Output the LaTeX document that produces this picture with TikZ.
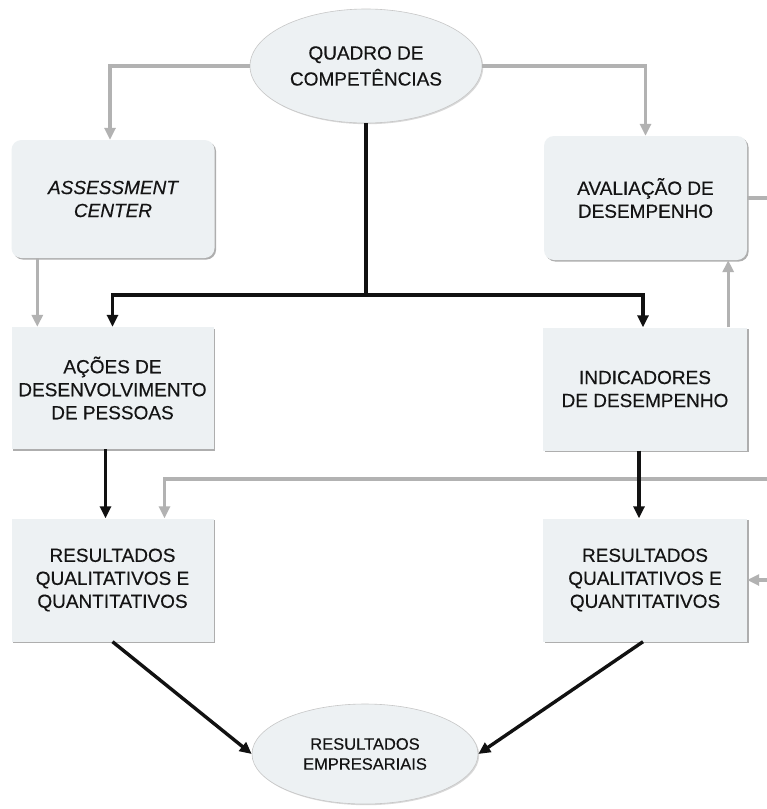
\documentclass[tikz,border=0pt]{standalone}
\usepackage{fontspec}
\setmainfont{Liberation Sans}[FakeBold=0.35]
\usetikzlibrary{arrows.meta,shapes.geometric,shadows}

\definecolor{boxfill}{HTML}{EDF1F3}
\definecolor{linkgray}{HTML}{B2B2B2}
\definecolor{inkblack}{HTML}{111111}
\definecolor{textdark}{HTML}{141414}

\tikzset{
  card/.style={fill=boxfill, inner sep=2pt, align=center, text=textdark,
    drop shadow={shadow xshift=1.6pt, shadow yshift=-1.6pt, fill=black!45, opacity=0.7},
    font=\fontsize{19}{23}\selectfont},
  softcard/.style={card, rounded corners=10pt},
  bubble/.style={ellipse, fill=boxfill, draw=black!22, line width=0.6pt, inner sep=0pt,
    align=center, text=textdark,
    drop shadow={shadow xshift=1.2pt, shadow yshift=-1.2pt, fill=black!25, opacity=0.6}},
  tip/.style={-{Triangle[length=12pt,width=11pt]}},
  graylink/.style={draw=linkgray, line width=3.2pt, tip},
  grayline/.style={draw=linkgray, line width=3.2pt},
  blacklink/.style={draw=inkblack, line width=3.4pt, tip},
  blackline/.style={draw=inkblack, line width=3.4pt},
}

\begin{document}
\begin{tikzpicture}[x=1pt, y=-1pt]
  \fill[white] (0,0) rectangle (767,809);
  \useasboundingbox (0,0) rectangle (767,809);

  % central competence map and final results
  \node[bubble, minimum width=232pt, minimum height=114pt,
        font=\fontsize{19}{26}\selectfont] (quadro) at (366,66) {QUADRO DE\\COMPETÊNCIAS};
  \node[bubble, minimum width=226pt, minimum height=100pt,
        font=\fontsize{16.5}{20}\selectfont] (emp) at (365,754) {RESULTADOS\\EMPRESARIAIS};

  % left column
  \node[softcard, minimum width=203pt, minimum height=118pt] (assess) at (113,199)
        {\itshape ASSESSMENT\\\itshape CENTER};
  \node[card, minimum width=202pt, minimum height=122pt] (acoes) at (112.5,388)
        {AÇÕES DE\\DESENVOLVIMENTO\\DE PESSOAS};
  \node[card, minimum width=202pt, minimum height=123pt] (resL) at (112.5,580)
        {RESULTADOS\\QUALITATIVOS E\\QUANTITATIVOS};

  % right column
  \node[softcard, minimum width=203pt, minimum height=124pt] (aval) at (645.5,198)
        {AVALIAÇÃO DE\\DESEMPENHO};
  \node[card, minimum width=204pt, minimum height=123pt] (indic) at (645,389)
        {INDICADORES\\DE DESEMPENHO};
  \node[card, minimum width=204pt, minimum height=123pt] (resR) at (645,580)
        {RESULTADOS\\QUALITATIVOS E\\QUANTITATIVOS};

  % free ends running off the right border
  \coordinate (edgeA) at (767,198);
  \coordinate (edgeB) at (767,479);
  \coordinate (edgeC) at (767,580);
  \coordinate (hub) at (366,295);

  % gray feedback links
  \draw[graylink] (quadro.west) -| ([xshift=-3pt]assess.north);
  \draw[graylink] (quadro.east) -| (aval.north);
  \draw[graylink] ([xshift=26pt]assess.south west) -- ([xshift=26pt]acoes.north west);
  \draw[graylink] ([xshift=-19pt]indic.north east) -- ([xshift=-19pt]aval.south east);
  \draw[grayline] (aval.east) -- (edgeA);
  \draw[graylink] (edgeB) -| ([xshift=52pt]resL.north);
  \draw[graylink] (edgeC) -- (resR.east);

  % black main flow
  \draw[blackline] (quadro.south) -- (hub);
  \draw[blacklink] (hub) -| (acoes.north);
  \draw[blacklink] (hub) -| ([xshift=-2pt]indic.north);
  \draw[blacklink] ([xshift=-7pt]acoes.south) -- ([xshift=-7pt]resL.north);
  \draw[blacklink] ([xshift=-6pt]indic.south) -- ([xshift=-6pt]resR.north);
  \draw[blacklink] (resL.south) -- (emp.west);
  \draw[blacklink] ([xshift=-2pt]resR.south) -- (emp.east);
\end{tikzpicture}
\end{document}
